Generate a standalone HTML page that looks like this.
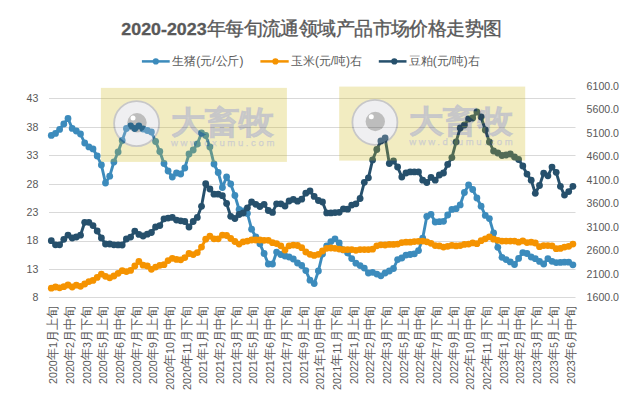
<!DOCTYPE html>
<html><head><meta charset="utf-8">
<style>
html,body{margin:0;padding:0;background:#fff;}
body{width:632px;height:401px;overflow:hidden;position:relative;}
svg{position:absolute;left:0;top:0;display:block;}
text{font-family:"Liberation Sans",sans-serif;fill:#595959;}
.ax{font-size:10.6px;}
.xl{font-size:11.5px;}
.cj{font-size:12.8px;}
.lg{font-size:12px;}
.title{font-weight:bold;}
</style></head><body>
<svg width="632" height="401" viewBox="0 0 632 401">
<line x1="49" x2="575.5" y1="98.50" y2="98.50" stroke="#d9d9d9" stroke-width="1"/>
<line x1="49" x2="575.5" y1="127.50" y2="127.50" stroke="#d9d9d9" stroke-width="1"/>
<line x1="49" x2="575.5" y1="155.50" y2="155.50" stroke="#d9d9d9" stroke-width="1"/>
<line x1="49" x2="575.5" y1="184.50" y2="184.50" stroke="#d9d9d9" stroke-width="1"/>
<line x1="49" x2="575.5" y1="212.50" y2="212.50" stroke="#d9d9d9" stroke-width="1"/>
<line x1="49" x2="575.5" y1="241.50" y2="241.50" stroke="#d9d9d9" stroke-width="1"/>
<line x1="49" x2="575.5" y1="269.50" y2="269.50" stroke="#d9d9d9" stroke-width="1"/>
<line x1="49" x2="575.5" y1="297.50" y2="297.50" stroke="#d9d9d9" stroke-width="1"/>
<polyline points="51.3,135.4 55.5,133.4 59.6,129.4 63.8,124.0 68.0,118.5 72.2,128.4 76.3,131.0 80.5,134.0 84.7,143.0 88.9,146.9 93.0,148.9 97.2,156.0 101.4,165.0 105.5,183.0 109.7,176.2 113.9,162.0 118.1,152.0 122.2,140.5 126.4,128.5 130.6,126.0 134.8,128.5 138.9,126.0 143.1,129.0 147.3,130.5 151.4,132.0 155.6,141.5 159.8,151.5 164.0,163.5 168.1,171.0 172.3,177.0 176.5,173.0 180.7,174.0 184.8,168.0 189.0,154.0 193.2,150.0 197.3,144.0 201.5,133.0 205.7,135.5 209.9,147.0 214.0,164.0 218.2,172.5 222.4,187.5 226.6,177.0 230.7,184.0 234.9,195.5 239.1,209.5 243.2,211.0 247.4,213.5 251.6,229.2 255.8,237.0 259.9,243.8 264.1,253.5 268.3,264.0 272.5,264.0 276.6,252.1 280.8,254.5 285.0,256.0 289.1,257.0 293.3,259.0 297.5,263.0 301.7,265.5 305.8,270.6 310.0,280.2 314.2,283.6 318.4,271.0 322.5,254.0 326.7,245.8 330.9,241.6 335.0,238.9 339.2,243.0 343.4,249.9 347.6,253.0 351.7,258.6 355.9,263.2 360.1,265.6 364.3,268.1 368.4,273.0 372.6,272.3 376.8,274.1 380.9,275.8 385.1,273.0 389.3,271.0 393.5,268.5 397.6,259.6 401.8,258.0 406.0,255.1 410.2,254.5 414.3,253.9 418.5,250.6 422.7,238.2 426.8,216.5 431.0,214.3 435.2,222.0 439.4,221.7 443.5,221.3 447.7,215.0 451.9,209.4 456.1,208.7 460.2,204.9 464.4,192.5 468.6,185.0 472.7,189.5 476.9,198.0 481.1,206.2 485.3,215.4 489.4,218.6 493.6,232.9 497.8,247.3 502.0,257.3 506.1,259.6 510.3,261.9 514.5,264.5 518.6,258.4 522.8,252.6 527.0,253.5 531.2,257.0 535.3,258.7 539.5,261.4 543.7,264.0 547.9,258.7 552.0,261.3 556.2,262.6 560.4,262.4 564.5,262.2 568.7,262.2 572.9,264.8" fill="none" stroke="#3c8bbc" stroke-width="2.9" stroke-linejoin="round" stroke-linecap="round"/>
<g fill="#3c8bbc">
<circle cx="51.3" cy="135.4" r="3.4"/>
<circle cx="55.5" cy="133.4" r="3.4"/>
<circle cx="59.6" cy="129.4" r="3.4"/>
<circle cx="63.8" cy="124.0" r="3.4"/>
<circle cx="68.0" cy="118.5" r="3.4"/>
<circle cx="72.2" cy="128.4" r="3.4"/>
<circle cx="76.3" cy="131.0" r="3.4"/>
<circle cx="80.5" cy="134.0" r="3.4"/>
<circle cx="84.7" cy="143.0" r="3.4"/>
<circle cx="88.9" cy="146.9" r="3.4"/>
<circle cx="93.0" cy="148.9" r="3.4"/>
<circle cx="97.2" cy="156.0" r="3.4"/>
<circle cx="101.4" cy="165.0" r="3.4"/>
<circle cx="105.5" cy="183.0" r="3.4"/>
<circle cx="109.7" cy="176.2" r="3.4"/>
<circle cx="113.9" cy="162.0" r="3.4"/>
<circle cx="118.1" cy="152.0" r="3.4"/>
<circle cx="122.2" cy="140.5" r="3.4"/>
<circle cx="126.4" cy="128.5" r="3.4"/>
<circle cx="130.6" cy="126.0" r="3.4"/>
<circle cx="134.8" cy="128.5" r="3.4"/>
<circle cx="138.9" cy="126.0" r="3.4"/>
<circle cx="143.1" cy="129.0" r="3.4"/>
<circle cx="147.3" cy="130.5" r="3.4"/>
<circle cx="151.4" cy="132.0" r="3.4"/>
<circle cx="155.6" cy="141.5" r="3.4"/>
<circle cx="159.8" cy="151.5" r="3.4"/>
<circle cx="164.0" cy="163.5" r="3.4"/>
<circle cx="168.1" cy="171.0" r="3.4"/>
<circle cx="172.3" cy="177.0" r="3.4"/>
<circle cx="176.5" cy="173.0" r="3.4"/>
<circle cx="180.7" cy="174.0" r="3.4"/>
<circle cx="184.8" cy="168.0" r="3.4"/>
<circle cx="189.0" cy="154.0" r="3.4"/>
<circle cx="193.2" cy="150.0" r="3.4"/>
<circle cx="197.3" cy="144.0" r="3.4"/>
<circle cx="201.5" cy="133.0" r="3.4"/>
<circle cx="205.7" cy="135.5" r="3.4"/>
<circle cx="209.9" cy="147.0" r="3.4"/>
<circle cx="214.0" cy="164.0" r="3.4"/>
<circle cx="218.2" cy="172.5" r="3.4"/>
<circle cx="222.4" cy="187.5" r="3.4"/>
<circle cx="226.6" cy="177.0" r="3.4"/>
<circle cx="230.7" cy="184.0" r="3.4"/>
<circle cx="234.9" cy="195.5" r="3.4"/>
<circle cx="239.1" cy="209.5" r="3.4"/>
<circle cx="243.2" cy="211.0" r="3.4"/>
<circle cx="247.4" cy="213.5" r="3.4"/>
<circle cx="251.6" cy="229.2" r="3.4"/>
<circle cx="255.8" cy="237.0" r="3.4"/>
<circle cx="259.9" cy="243.8" r="3.4"/>
<circle cx="264.1" cy="253.5" r="3.4"/>
<circle cx="268.3" cy="264.0" r="3.4"/>
<circle cx="272.5" cy="264.0" r="3.4"/>
<circle cx="276.6" cy="252.1" r="3.4"/>
<circle cx="280.8" cy="254.5" r="3.4"/>
<circle cx="285.0" cy="256.0" r="3.4"/>
<circle cx="289.1" cy="257.0" r="3.4"/>
<circle cx="293.3" cy="259.0" r="3.4"/>
<circle cx="297.5" cy="263.0" r="3.4"/>
<circle cx="301.7" cy="265.5" r="3.4"/>
<circle cx="305.8" cy="270.6" r="3.4"/>
<circle cx="310.0" cy="280.2" r="3.4"/>
<circle cx="314.2" cy="283.6" r="3.4"/>
<circle cx="318.4" cy="271.0" r="3.4"/>
<circle cx="322.5" cy="254.0" r="3.4"/>
<circle cx="326.7" cy="245.8" r="3.4"/>
<circle cx="330.9" cy="241.6" r="3.4"/>
<circle cx="335.0" cy="238.9" r="3.4"/>
<circle cx="339.2" cy="243.0" r="3.4"/>
<circle cx="343.4" cy="249.9" r="3.4"/>
<circle cx="347.6" cy="253.0" r="3.4"/>
<circle cx="351.7" cy="258.6" r="3.4"/>
<circle cx="355.9" cy="263.2" r="3.4"/>
<circle cx="360.1" cy="265.6" r="3.4"/>
<circle cx="364.3" cy="268.1" r="3.4"/>
<circle cx="368.4" cy="273.0" r="3.4"/>
<circle cx="372.6" cy="272.3" r="3.4"/>
<circle cx="376.8" cy="274.1" r="3.4"/>
<circle cx="380.9" cy="275.8" r="3.4"/>
<circle cx="385.1" cy="273.0" r="3.4"/>
<circle cx="389.3" cy="271.0" r="3.4"/>
<circle cx="393.5" cy="268.5" r="3.4"/>
<circle cx="397.6" cy="259.6" r="3.4"/>
<circle cx="401.8" cy="258.0" r="3.4"/>
<circle cx="406.0" cy="255.1" r="3.4"/>
<circle cx="410.2" cy="254.5" r="3.4"/>
<circle cx="414.3" cy="253.9" r="3.4"/>
<circle cx="418.5" cy="250.6" r="3.4"/>
<circle cx="422.7" cy="238.2" r="3.4"/>
<circle cx="426.8" cy="216.5" r="3.4"/>
<circle cx="431.0" cy="214.3" r="3.4"/>
<circle cx="435.2" cy="222.0" r="3.4"/>
<circle cx="439.4" cy="221.7" r="3.4"/>
<circle cx="443.5" cy="221.3" r="3.4"/>
<circle cx="447.7" cy="215.0" r="3.4"/>
<circle cx="451.9" cy="209.4" r="3.4"/>
<circle cx="456.1" cy="208.7" r="3.4"/>
<circle cx="460.2" cy="204.9" r="3.4"/>
<circle cx="464.4" cy="192.5" r="3.4"/>
<circle cx="468.6" cy="185.0" r="3.4"/>
<circle cx="472.7" cy="189.5" r="3.4"/>
<circle cx="476.9" cy="198.0" r="3.4"/>
<circle cx="481.1" cy="206.2" r="3.4"/>
<circle cx="485.3" cy="215.4" r="3.4"/>
<circle cx="489.4" cy="218.6" r="3.4"/>
<circle cx="493.6" cy="232.9" r="3.4"/>
<circle cx="497.8" cy="247.3" r="3.4"/>
<circle cx="502.0" cy="257.3" r="3.4"/>
<circle cx="506.1" cy="259.6" r="3.4"/>
<circle cx="510.3" cy="261.9" r="3.4"/>
<circle cx="514.5" cy="264.5" r="3.4"/>
<circle cx="518.6" cy="258.4" r="3.4"/>
<circle cx="522.8" cy="252.6" r="3.4"/>
<circle cx="527.0" cy="253.5" r="3.4"/>
<circle cx="531.2" cy="257.0" r="3.4"/>
<circle cx="535.3" cy="258.7" r="3.4"/>
<circle cx="539.5" cy="261.4" r="3.4"/>
<circle cx="543.7" cy="264.0" r="3.4"/>
<circle cx="547.9" cy="258.7" r="3.4"/>
<circle cx="552.0" cy="261.3" r="3.4"/>
<circle cx="556.2" cy="262.6" r="3.4"/>
<circle cx="560.4" cy="262.4" r="3.4"/>
<circle cx="564.5" cy="262.2" r="3.4"/>
<circle cx="568.7" cy="262.2" r="3.4"/>
<circle cx="572.9" cy="264.8" r="3.4"/>
</g>
<polyline points="51.3,288.2 55.5,287.0 59.6,287.8 63.8,286.7 68.0,285.0 72.2,287.0 76.3,285.2 80.5,286.3 84.7,284.0 88.9,281.6 93.0,280.4 97.2,277.4 101.4,274.1 105.5,276.3 109.7,277.8 113.9,276.0 118.1,273.3 122.2,270.7 126.4,271.6 130.6,270.4 134.8,266.0 138.9,261.5 143.1,265.2 147.3,266.0 151.4,269.3 155.6,267.1 159.8,265.3 164.0,264.7 168.1,260.6 172.3,258.3 176.5,259.4 180.7,259.8 184.8,257.6 189.0,253.5 193.2,254.6 197.3,252.7 201.5,247.1 205.7,239.2 209.9,236.2 214.0,238.8 218.2,238.8 222.4,235.1 226.6,235.5 230.7,238.5 234.9,241.5 239.1,244.1 243.2,241.8 247.4,241.1 251.6,240.0 255.8,240.0 259.9,240.0 264.1,240.3 268.3,240.3 272.5,242.7 276.6,243.6 280.8,245.8 285.0,250.0 289.1,245.8 293.3,245.1 297.5,245.5 301.7,247.7 305.8,252.0 310.0,254.3 314.2,255.4 318.4,254.3 322.5,251.0 326.7,248.3 330.9,248.0 335.0,248.3 339.2,249.1 343.4,249.7 347.6,249.6 351.7,249.6 355.9,250.3 360.1,249.6 364.3,249.6 368.4,249.6 372.6,249.2 376.8,245.8 380.9,244.8 385.1,245.0 389.3,244.4 393.5,244.4 397.6,244.1 401.8,242.6 406.0,242.2 410.2,242.2 414.3,241.6 418.5,241.3 422.7,241.1 426.8,241.8 431.0,243.3 435.2,245.6 439.4,245.9 443.5,247.1 447.7,246.3 451.9,245.4 456.1,245.9 460.2,245.6 464.4,244.4 468.6,244.1 472.7,242.9 476.9,243.7 481.1,240.7 485.3,238.8 489.4,236.8 493.6,239.2 497.8,240.3 502.0,241.1 506.1,241.1 510.3,241.1 514.5,241.1 518.6,242.2 522.8,240.9 527.0,242.6 531.2,242.2 535.3,243.0 539.5,246.7 543.7,245.6 547.9,245.6 552.0,245.8 556.2,248.7 560.4,248.4 564.5,247.1 568.7,246.3 572.9,244.1" fill="none" stroke="#f59300" stroke-width="2.9" stroke-linejoin="round" stroke-linecap="round"/>
<g fill="#f59300">
<circle cx="51.3" cy="288.2" r="3.4"/>
<circle cx="55.5" cy="287.0" r="3.4"/>
<circle cx="59.6" cy="287.8" r="3.4"/>
<circle cx="63.8" cy="286.7" r="3.4"/>
<circle cx="68.0" cy="285.0" r="3.4"/>
<circle cx="72.2" cy="287.0" r="3.4"/>
<circle cx="76.3" cy="285.2" r="3.4"/>
<circle cx="80.5" cy="286.3" r="3.4"/>
<circle cx="84.7" cy="284.0" r="3.4"/>
<circle cx="88.9" cy="281.6" r="3.4"/>
<circle cx="93.0" cy="280.4" r="3.4"/>
<circle cx="97.2" cy="277.4" r="3.4"/>
<circle cx="101.4" cy="274.1" r="3.4"/>
<circle cx="105.5" cy="276.3" r="3.4"/>
<circle cx="109.7" cy="277.8" r="3.4"/>
<circle cx="113.9" cy="276.0" r="3.4"/>
<circle cx="118.1" cy="273.3" r="3.4"/>
<circle cx="122.2" cy="270.7" r="3.4"/>
<circle cx="126.4" cy="271.6" r="3.4"/>
<circle cx="130.6" cy="270.4" r="3.4"/>
<circle cx="134.8" cy="266.0" r="3.4"/>
<circle cx="138.9" cy="261.5" r="3.4"/>
<circle cx="143.1" cy="265.2" r="3.4"/>
<circle cx="147.3" cy="266.0" r="3.4"/>
<circle cx="151.4" cy="269.3" r="3.4"/>
<circle cx="155.6" cy="267.1" r="3.4"/>
<circle cx="159.8" cy="265.3" r="3.4"/>
<circle cx="164.0" cy="264.7" r="3.4"/>
<circle cx="168.1" cy="260.6" r="3.4"/>
<circle cx="172.3" cy="258.3" r="3.4"/>
<circle cx="176.5" cy="259.4" r="3.4"/>
<circle cx="180.7" cy="259.8" r="3.4"/>
<circle cx="184.8" cy="257.6" r="3.4"/>
<circle cx="189.0" cy="253.5" r="3.4"/>
<circle cx="193.2" cy="254.6" r="3.4"/>
<circle cx="197.3" cy="252.7" r="3.4"/>
<circle cx="201.5" cy="247.1" r="3.4"/>
<circle cx="205.7" cy="239.2" r="3.4"/>
<circle cx="209.9" cy="236.2" r="3.4"/>
<circle cx="214.0" cy="238.8" r="3.4"/>
<circle cx="218.2" cy="238.8" r="3.4"/>
<circle cx="222.4" cy="235.1" r="3.4"/>
<circle cx="226.6" cy="235.5" r="3.4"/>
<circle cx="230.7" cy="238.5" r="3.4"/>
<circle cx="234.9" cy="241.5" r="3.4"/>
<circle cx="239.1" cy="244.1" r="3.4"/>
<circle cx="243.2" cy="241.8" r="3.4"/>
<circle cx="247.4" cy="241.1" r="3.4"/>
<circle cx="251.6" cy="240.0" r="3.4"/>
<circle cx="255.8" cy="240.0" r="3.4"/>
<circle cx="259.9" cy="240.0" r="3.4"/>
<circle cx="264.1" cy="240.3" r="3.4"/>
<circle cx="268.3" cy="240.3" r="3.4"/>
<circle cx="272.5" cy="242.7" r="3.4"/>
<circle cx="276.6" cy="243.6" r="3.4"/>
<circle cx="280.8" cy="245.8" r="3.4"/>
<circle cx="285.0" cy="250.0" r="3.4"/>
<circle cx="289.1" cy="245.8" r="3.4"/>
<circle cx="293.3" cy="245.1" r="3.4"/>
<circle cx="297.5" cy="245.5" r="3.4"/>
<circle cx="301.7" cy="247.7" r="3.4"/>
<circle cx="305.8" cy="252.0" r="3.4"/>
<circle cx="310.0" cy="254.3" r="3.4"/>
<circle cx="314.2" cy="255.4" r="3.4"/>
<circle cx="318.4" cy="254.3" r="3.4"/>
<circle cx="322.5" cy="251.0" r="3.4"/>
<circle cx="326.7" cy="248.3" r="3.4"/>
<circle cx="330.9" cy="248.0" r="3.4"/>
<circle cx="335.0" cy="248.3" r="3.4"/>
<circle cx="339.2" cy="249.1" r="3.4"/>
<circle cx="343.4" cy="249.7" r="3.4"/>
<circle cx="347.6" cy="249.6" r="3.4"/>
<circle cx="351.7" cy="249.6" r="3.4"/>
<circle cx="355.9" cy="250.3" r="3.4"/>
<circle cx="360.1" cy="249.6" r="3.4"/>
<circle cx="364.3" cy="249.6" r="3.4"/>
<circle cx="368.4" cy="249.6" r="3.4"/>
<circle cx="372.6" cy="249.2" r="3.4"/>
<circle cx="376.8" cy="245.8" r="3.4"/>
<circle cx="380.9" cy="244.8" r="3.4"/>
<circle cx="385.1" cy="245.0" r="3.4"/>
<circle cx="389.3" cy="244.4" r="3.4"/>
<circle cx="393.5" cy="244.4" r="3.4"/>
<circle cx="397.6" cy="244.1" r="3.4"/>
<circle cx="401.8" cy="242.6" r="3.4"/>
<circle cx="406.0" cy="242.2" r="3.4"/>
<circle cx="410.2" cy="242.2" r="3.4"/>
<circle cx="414.3" cy="241.6" r="3.4"/>
<circle cx="418.5" cy="241.3" r="3.4"/>
<circle cx="422.7" cy="241.1" r="3.4"/>
<circle cx="426.8" cy="241.8" r="3.4"/>
<circle cx="431.0" cy="243.3" r="3.4"/>
<circle cx="435.2" cy="245.6" r="3.4"/>
<circle cx="439.4" cy="245.9" r="3.4"/>
<circle cx="443.5" cy="247.1" r="3.4"/>
<circle cx="447.7" cy="246.3" r="3.4"/>
<circle cx="451.9" cy="245.4" r="3.4"/>
<circle cx="456.1" cy="245.9" r="3.4"/>
<circle cx="460.2" cy="245.6" r="3.4"/>
<circle cx="464.4" cy="244.4" r="3.4"/>
<circle cx="468.6" cy="244.1" r="3.4"/>
<circle cx="472.7" cy="242.9" r="3.4"/>
<circle cx="476.9" cy="243.7" r="3.4"/>
<circle cx="481.1" cy="240.7" r="3.4"/>
<circle cx="485.3" cy="238.8" r="3.4"/>
<circle cx="489.4" cy="236.8" r="3.4"/>
<circle cx="493.6" cy="239.2" r="3.4"/>
<circle cx="497.8" cy="240.3" r="3.4"/>
<circle cx="502.0" cy="241.1" r="3.4"/>
<circle cx="506.1" cy="241.1" r="3.4"/>
<circle cx="510.3" cy="241.1" r="3.4"/>
<circle cx="514.5" cy="241.1" r="3.4"/>
<circle cx="518.6" cy="242.2" r="3.4"/>
<circle cx="522.8" cy="240.9" r="3.4"/>
<circle cx="527.0" cy="242.6" r="3.4"/>
<circle cx="531.2" cy="242.2" r="3.4"/>
<circle cx="535.3" cy="243.0" r="3.4"/>
<circle cx="539.5" cy="246.7" r="3.4"/>
<circle cx="543.7" cy="245.6" r="3.4"/>
<circle cx="547.9" cy="245.6" r="3.4"/>
<circle cx="552.0" cy="245.8" r="3.4"/>
<circle cx="556.2" cy="248.7" r="3.4"/>
<circle cx="560.4" cy="248.4" r="3.4"/>
<circle cx="564.5" cy="247.1" r="3.4"/>
<circle cx="568.7" cy="246.3" r="3.4"/>
<circle cx="572.9" cy="244.1" r="3.4"/>
</g>
<polyline points="51.3,240.7 55.5,244.8 59.6,244.8 63.8,239.3 68.0,235.2 72.2,238.0 76.3,237.0 80.5,235.2 84.7,222.3 88.9,222.3 93.0,225.6 97.2,231.0 101.4,238.0 105.5,244.0 109.7,244.0 113.9,244.8 118.1,244.9 122.2,245.0 126.4,239.0 130.6,237.1 134.8,231.1 138.9,234.4 143.1,236.0 147.3,234.2 151.4,232.5 155.6,227.0 159.8,225.6 164.0,218.8 168.1,218.1 172.3,217.4 176.5,220.1 180.7,220.8 184.8,221.5 189.0,227.0 193.2,221.5 197.3,217.4 201.5,206.3 205.7,183.7 209.9,189.0 214.0,194.2 218.2,194.2 222.4,195.7 226.6,203.5 230.7,216.3 234.9,218.5 239.1,214.5 243.2,213.0 247.4,207.8 251.6,202.0 255.8,204.3 259.9,206.5 264.1,204.3 268.3,210.5 272.5,212.4 276.6,203.8 280.8,203.8 285.0,206.0 289.1,201.0 293.3,199.4 297.5,201.2 301.7,199.2 305.8,193.2 310.0,191.0 314.2,196.4 318.4,200.5 322.5,202.0 326.7,212.9 330.9,212.9 335.0,212.6 339.2,212.3 343.4,208.8 347.6,209.2 351.7,205.1 355.9,203.8 360.1,198.5 364.3,182.3 368.4,177.8 372.6,159.9 376.8,149.5 380.9,141.0 385.1,138.0 389.3,163.5 393.5,161.0 397.6,167.0 401.8,177.0 406.0,173.0 410.2,171.9 414.3,171.9 418.5,171.9 422.7,180.2 426.8,182.5 431.0,177.4 435.2,180.2 439.4,175.0 443.5,173.0 447.7,164.4 451.9,157.6 456.1,141.9 460.2,128.0 464.4,125.0 468.6,119.0 472.7,118.0 476.9,112.0 481.1,117.0 485.3,130.0 489.4,142.0 493.6,151.0 497.8,153.0 502.0,155.5 506.1,155.0 510.3,154.0 514.5,157.0 518.6,159.5 522.8,166.0 527.0,174.1 531.2,180.2 535.3,193.3 539.5,185.5 543.7,173.2 547.9,175.8 552.0,167.1 556.2,172.3 560.4,186.3 564.5,195.1 568.7,191.6 572.9,186.3" fill="none" stroke="#26506c" stroke-width="2.9" stroke-linejoin="round" stroke-linecap="round"/>
<g fill="#26506c">
<circle cx="51.3" cy="240.7" r="3.4"/>
<circle cx="55.5" cy="244.8" r="3.4"/>
<circle cx="59.6" cy="244.8" r="3.4"/>
<circle cx="63.8" cy="239.3" r="3.4"/>
<circle cx="68.0" cy="235.2" r="3.4"/>
<circle cx="72.2" cy="238.0" r="3.4"/>
<circle cx="76.3" cy="237.0" r="3.4"/>
<circle cx="80.5" cy="235.2" r="3.4"/>
<circle cx="84.7" cy="222.3" r="3.4"/>
<circle cx="88.9" cy="222.3" r="3.4"/>
<circle cx="93.0" cy="225.6" r="3.4"/>
<circle cx="97.2" cy="231.0" r="3.4"/>
<circle cx="101.4" cy="238.0" r="3.4"/>
<circle cx="105.5" cy="244.0" r="3.4"/>
<circle cx="109.7" cy="244.0" r="3.4"/>
<circle cx="113.9" cy="244.8" r="3.4"/>
<circle cx="118.1" cy="244.9" r="3.4"/>
<circle cx="122.2" cy="245.0" r="3.4"/>
<circle cx="126.4" cy="239.0" r="3.4"/>
<circle cx="130.6" cy="237.1" r="3.4"/>
<circle cx="134.8" cy="231.1" r="3.4"/>
<circle cx="138.9" cy="234.4" r="3.4"/>
<circle cx="143.1" cy="236.0" r="3.4"/>
<circle cx="147.3" cy="234.2" r="3.4"/>
<circle cx="151.4" cy="232.5" r="3.4"/>
<circle cx="155.6" cy="227.0" r="3.4"/>
<circle cx="159.8" cy="225.6" r="3.4"/>
<circle cx="164.0" cy="218.8" r="3.4"/>
<circle cx="168.1" cy="218.1" r="3.4"/>
<circle cx="172.3" cy="217.4" r="3.4"/>
<circle cx="176.5" cy="220.1" r="3.4"/>
<circle cx="180.7" cy="220.8" r="3.4"/>
<circle cx="184.8" cy="221.5" r="3.4"/>
<circle cx="189.0" cy="227.0" r="3.4"/>
<circle cx="193.2" cy="221.5" r="3.4"/>
<circle cx="197.3" cy="217.4" r="3.4"/>
<circle cx="201.5" cy="206.3" r="3.4"/>
<circle cx="205.7" cy="183.7" r="3.4"/>
<circle cx="209.9" cy="189.0" r="3.4"/>
<circle cx="214.0" cy="194.2" r="3.4"/>
<circle cx="218.2" cy="194.2" r="3.4"/>
<circle cx="222.4" cy="195.7" r="3.4"/>
<circle cx="226.6" cy="203.5" r="3.4"/>
<circle cx="230.7" cy="216.3" r="3.4"/>
<circle cx="234.9" cy="218.5" r="3.4"/>
<circle cx="239.1" cy="214.5" r="3.4"/>
<circle cx="243.2" cy="213.0" r="3.4"/>
<circle cx="247.4" cy="207.8" r="3.4"/>
<circle cx="251.6" cy="202.0" r="3.4"/>
<circle cx="255.8" cy="204.3" r="3.4"/>
<circle cx="259.9" cy="206.5" r="3.4"/>
<circle cx="264.1" cy="204.3" r="3.4"/>
<circle cx="268.3" cy="210.5" r="3.4"/>
<circle cx="272.5" cy="212.4" r="3.4"/>
<circle cx="276.6" cy="203.8" r="3.4"/>
<circle cx="280.8" cy="203.8" r="3.4"/>
<circle cx="285.0" cy="206.0" r="3.4"/>
<circle cx="289.1" cy="201.0" r="3.4"/>
<circle cx="293.3" cy="199.4" r="3.4"/>
<circle cx="297.5" cy="201.2" r="3.4"/>
<circle cx="301.7" cy="199.2" r="3.4"/>
<circle cx="305.8" cy="193.2" r="3.4"/>
<circle cx="310.0" cy="191.0" r="3.4"/>
<circle cx="314.2" cy="196.4" r="3.4"/>
<circle cx="318.4" cy="200.5" r="3.4"/>
<circle cx="322.5" cy="202.0" r="3.4"/>
<circle cx="326.7" cy="212.9" r="3.4"/>
<circle cx="330.9" cy="212.9" r="3.4"/>
<circle cx="335.0" cy="212.6" r="3.4"/>
<circle cx="339.2" cy="212.3" r="3.4"/>
<circle cx="343.4" cy="208.8" r="3.4"/>
<circle cx="347.6" cy="209.2" r="3.4"/>
<circle cx="351.7" cy="205.1" r="3.4"/>
<circle cx="355.9" cy="203.8" r="3.4"/>
<circle cx="360.1" cy="198.5" r="3.4"/>
<circle cx="364.3" cy="182.3" r="3.4"/>
<circle cx="368.4" cy="177.8" r="3.4"/>
<circle cx="372.6" cy="159.9" r="3.4"/>
<circle cx="376.8" cy="149.5" r="3.4"/>
<circle cx="380.9" cy="141.0" r="3.4"/>
<circle cx="385.1" cy="138.0" r="3.4"/>
<circle cx="389.3" cy="163.5" r="3.4"/>
<circle cx="393.5" cy="161.0" r="3.4"/>
<circle cx="397.6" cy="167.0" r="3.4"/>
<circle cx="401.8" cy="177.0" r="3.4"/>
<circle cx="406.0" cy="173.0" r="3.4"/>
<circle cx="410.2" cy="171.9" r="3.4"/>
<circle cx="414.3" cy="171.9" r="3.4"/>
<circle cx="418.5" cy="171.9" r="3.4"/>
<circle cx="422.7" cy="180.2" r="3.4"/>
<circle cx="426.8" cy="182.5" r="3.4"/>
<circle cx="431.0" cy="177.4" r="3.4"/>
<circle cx="435.2" cy="180.2" r="3.4"/>
<circle cx="439.4" cy="175.0" r="3.4"/>
<circle cx="443.5" cy="173.0" r="3.4"/>
<circle cx="447.7" cy="164.4" r="3.4"/>
<circle cx="451.9" cy="157.6" r="3.4"/>
<circle cx="456.1" cy="141.9" r="3.4"/>
<circle cx="460.2" cy="128.0" r="3.4"/>
<circle cx="464.4" cy="125.0" r="3.4"/>
<circle cx="468.6" cy="119.0" r="3.4"/>
<circle cx="472.7" cy="118.0" r="3.4"/>
<circle cx="476.9" cy="112.0" r="3.4"/>
<circle cx="481.1" cy="117.0" r="3.4"/>
<circle cx="485.3" cy="130.0" r="3.4"/>
<circle cx="489.4" cy="142.0" r="3.4"/>
<circle cx="493.6" cy="151.0" r="3.4"/>
<circle cx="497.8" cy="153.0" r="3.4"/>
<circle cx="502.0" cy="155.5" r="3.4"/>
<circle cx="506.1" cy="155.0" r="3.4"/>
<circle cx="510.3" cy="154.0" r="3.4"/>
<circle cx="514.5" cy="157.0" r="3.4"/>
<circle cx="518.6" cy="159.5" r="3.4"/>
<circle cx="522.8" cy="166.0" r="3.4"/>
<circle cx="527.0" cy="174.1" r="3.4"/>
<circle cx="531.2" cy="180.2" r="3.4"/>
<circle cx="535.3" cy="193.3" r="3.4"/>
<circle cx="539.5" cy="185.5" r="3.4"/>
<circle cx="543.7" cy="173.2" r="3.4"/>
<circle cx="547.9" cy="175.8" r="3.4"/>
<circle cx="552.0" cy="167.1" r="3.4"/>
<circle cx="556.2" cy="172.3" r="3.4"/>
<circle cx="560.4" cy="186.3" r="3.4"/>
<circle cx="564.5" cy="195.1" r="3.4"/>
<circle cx="568.7" cy="191.6" r="3.4"/>
<circle cx="572.9" cy="186.3" r="3.4"/>
</g>
<g opacity="0.263">
<rect x="100.9" y="87.9" width="186" height="74" fill="#cfb916"/>
<circle cx="136.6" cy="123.6" r="22.5" fill="#c6c6cd" stroke="#2e2e32" stroke-width="1.8"/>
<circle cx="137.0" cy="122.8" r="9.7" fill="#0a0a0a"/>
<circle cx="133.0" cy="118.0" r="2.5" fill="#ffffff"/>
<text x="170.7" y="132.9" font-family="Liberation Sans, sans-serif" font-weight="bold" font-size="31" fill="#2e2e32" stroke="#2e2e32" stroke-width="0.8" textLength="103" lengthAdjust="spacingAndGlyphs">大畜牧</text>
<text x="170.9" y="146.3" font-family="Liberation Sans, sans-serif" font-size="9.6" fill="#2e2e32" stroke="#2e2e32" stroke-width="0.25" textLength="103.5" lengthAdjust="spacing">www.dxumu.com</text>
</g>
<g opacity="0.263">
<rect x="339.2" y="86.6" width="186" height="74" fill="#cfb916"/>
<circle cx="374.9" cy="122.3" r="22.5" fill="#c6c6cd" stroke="#2e2e32" stroke-width="1.8"/>
<circle cx="375.3" cy="121.5" r="9.7" fill="#0a0a0a"/>
<circle cx="371.3" cy="116.7" r="2.5" fill="#ffffff"/>
<text x="409.0" y="131.6" font-family="Liberation Sans, sans-serif" font-weight="bold" font-size="31" fill="#2e2e32" stroke="#2e2e32" stroke-width="0.8" textLength="103" lengthAdjust="spacingAndGlyphs">大畜牧</text>
<text x="409.2" y="145.0" font-family="Liberation Sans, sans-serif" font-size="9.6" fill="#2e2e32" stroke="#2e2e32" stroke-width="0.25" textLength="103.5" lengthAdjust="spacing">www.dxumu.com</text>
</g>
<text x="38.3" y="102.2" text-anchor="end" class="ax">43</text>
<text x="38.3" y="130.6" text-anchor="end" class="ax">38</text>
<text x="38.3" y="159.1" text-anchor="end" class="ax">33</text>
<text x="38.3" y="187.5" text-anchor="end" class="ax">28</text>
<text x="38.3" y="216.0" text-anchor="end" class="ax">23</text>
<text x="38.3" y="244.4" text-anchor="end" class="ax">18</text>
<text x="38.3" y="272.9" text-anchor="end" class="ax">13</text>
<text x="38.3" y="301.3" text-anchor="end" class="ax">8</text>
<text x="586.6" y="89.8" class="ax">6100.0</text>
<text x="586.6" y="113.3" class="ax">5600.0</text>
<text x="586.6" y="136.8" class="ax">5100.0</text>
<text x="586.6" y="160.3" class="ax">4600.0</text>
<text x="586.6" y="183.8" class="ax">4100.0</text>
<text x="586.6" y="207.3" class="ax">3600.0</text>
<text x="586.6" y="230.8" class="ax">3100.0</text>
<text x="586.6" y="254.3" class="ax">2600.0</text>
<text x="586.6" y="277.8" class="ax">2100.0</text>
<text x="586.6" y="301.3" class="ax">1600.0</text>
<text transform="translate(57.1,305.8) rotate(-90)" x="0" y="0" text-anchor="end" class="xl" textLength="78.2" lengthAdjust="spacingAndGlyphs"><tspan>2020</tspan><tspan class="cj">年</tspan><tspan>1</tspan><tspan class="cj">月上旬</tspan></text>
<text transform="translate(73.8,305.8) rotate(-90)" x="0" y="0" text-anchor="end" class="xl" textLength="78.2" lengthAdjust="spacingAndGlyphs"><tspan>2020</tspan><tspan class="cj">年</tspan><tspan>2</tspan><tspan class="cj">月中旬</tspan></text>
<text transform="translate(90.5,305.8) rotate(-90)" x="0" y="0" text-anchor="end" class="xl" textLength="78.2" lengthAdjust="spacingAndGlyphs"><tspan>2020</tspan><tspan class="cj">年</tspan><tspan>3</tspan><tspan class="cj">月下旬</tspan></text>
<text transform="translate(107.2,305.8) rotate(-90)" x="0" y="0" text-anchor="end" class="xl" textLength="78.2" lengthAdjust="spacingAndGlyphs"><tspan>2020</tspan><tspan class="cj">年</tspan><tspan>5</tspan><tspan class="cj">月上旬</tspan></text>
<text transform="translate(123.9,305.8) rotate(-90)" x="0" y="0" text-anchor="end" class="xl" textLength="78.2" lengthAdjust="spacingAndGlyphs"><tspan>2020</tspan><tspan class="cj">年</tspan><tspan>6</tspan><tspan class="cj">月中旬</tspan></text>
<text transform="translate(140.6,305.8) rotate(-90)" x="0" y="0" text-anchor="end" class="xl" textLength="78.2" lengthAdjust="spacingAndGlyphs"><tspan>2020</tspan><tspan class="cj">年</tspan><tspan>7</tspan><tspan class="cj">月下旬</tspan></text>
<text transform="translate(157.2,305.8) rotate(-90)" x="0" y="0" text-anchor="end" class="xl" textLength="78.2" lengthAdjust="spacingAndGlyphs"><tspan>2020</tspan><tspan class="cj">年</tspan><tspan>9</tspan><tspan class="cj">月上旬</tspan></text>
<text transform="translate(173.9,305.8) rotate(-90)" x="0" y="0" text-anchor="end" class="xl" textLength="84.1" lengthAdjust="spacingAndGlyphs"><tspan>2020</tspan><tspan class="cj">年</tspan><tspan>10</tspan><tspan class="cj">月中旬</tspan></text>
<text transform="translate(190.6,305.8) rotate(-90)" x="0" y="0" text-anchor="end" class="xl" textLength="84.1" lengthAdjust="spacingAndGlyphs"><tspan>2020</tspan><tspan class="cj">年</tspan><tspan>11</tspan><tspan class="cj">月下旬</tspan></text>
<text transform="translate(207.3,305.8) rotate(-90)" x="0" y="0" text-anchor="end" class="xl" textLength="78.2" lengthAdjust="spacingAndGlyphs"><tspan>2021</tspan><tspan class="cj">年</tspan><tspan>1</tspan><tspan class="cj">月上旬</tspan></text>
<text transform="translate(224.0,305.8) rotate(-90)" x="0" y="0" text-anchor="end" class="xl" textLength="78.2" lengthAdjust="spacingAndGlyphs"><tspan>2021</tspan><tspan class="cj">年</tspan><tspan>2</tspan><tspan class="cj">月中旬</tspan></text>
<text transform="translate(240.7,305.8) rotate(-90)" x="0" y="0" text-anchor="end" class="xl" textLength="78.2" lengthAdjust="spacingAndGlyphs"><tspan>2021</tspan><tspan class="cj">年</tspan><tspan>3</tspan><tspan class="cj">月下旬</tspan></text>
<text transform="translate(257.4,305.8) rotate(-90)" x="0" y="0" text-anchor="end" class="xl" textLength="78.2" lengthAdjust="spacingAndGlyphs"><tspan>2021</tspan><tspan class="cj">年</tspan><tspan>5</tspan><tspan class="cj">月上旬</tspan></text>
<text transform="translate(274.1,305.8) rotate(-90)" x="0" y="0" text-anchor="end" class="xl" textLength="78.2" lengthAdjust="spacingAndGlyphs"><tspan>2021</tspan><tspan class="cj">年</tspan><tspan>6</tspan><tspan class="cj">月中旬</tspan></text>
<text transform="translate(290.8,305.8) rotate(-90)" x="0" y="0" text-anchor="end" class="xl" textLength="78.2" lengthAdjust="spacingAndGlyphs"><tspan>2021</tspan><tspan class="cj">年</tspan><tspan>7</tspan><tspan class="cj">月下旬</tspan></text>
<text transform="translate(307.5,305.8) rotate(-90)" x="0" y="0" text-anchor="end" class="xl" textLength="78.2" lengthAdjust="spacingAndGlyphs"><tspan>2021</tspan><tspan class="cj">年</tspan><tspan>9</tspan><tspan class="cj">月上旬</tspan></text>
<text transform="translate(324.2,305.8) rotate(-90)" x="0" y="0" text-anchor="end" class="xl" textLength="84.1" lengthAdjust="spacingAndGlyphs"><tspan>2021</tspan><tspan class="cj">年</tspan><tspan>10</tspan><tspan class="cj">月中旬</tspan></text>
<text transform="translate(340.8,305.8) rotate(-90)" x="0" y="0" text-anchor="end" class="xl" textLength="84.1" lengthAdjust="spacingAndGlyphs"><tspan>2021</tspan><tspan class="cj">年</tspan><tspan>11</tspan><tspan class="cj">月下旬</tspan></text>
<text transform="translate(357.5,305.8) rotate(-90)" x="0" y="0" text-anchor="end" class="xl" textLength="78.2" lengthAdjust="spacingAndGlyphs"><tspan>2022</tspan><tspan class="cj">年</tspan><tspan>1</tspan><tspan class="cj">月上旬</tspan></text>
<text transform="translate(374.2,305.8) rotate(-90)" x="0" y="0" text-anchor="end" class="xl" textLength="78.2" lengthAdjust="spacingAndGlyphs"><tspan>2022</tspan><tspan class="cj">年</tspan><tspan>2</tspan><tspan class="cj">月中旬</tspan></text>
<text transform="translate(390.9,305.8) rotate(-90)" x="0" y="0" text-anchor="end" class="xl" textLength="78.2" lengthAdjust="spacingAndGlyphs"><tspan>2022</tspan><tspan class="cj">年</tspan><tspan>3</tspan><tspan class="cj">月下旬</tspan></text>
<text transform="translate(407.6,305.8) rotate(-90)" x="0" y="0" text-anchor="end" class="xl" textLength="78.2" lengthAdjust="spacingAndGlyphs"><tspan>2022</tspan><tspan class="cj">年</tspan><tspan>5</tspan><tspan class="cj">月上旬</tspan></text>
<text transform="translate(424.3,305.8) rotate(-90)" x="0" y="0" text-anchor="end" class="xl" textLength="78.2" lengthAdjust="spacingAndGlyphs"><tspan>2022</tspan><tspan class="cj">年</tspan><tspan>6</tspan><tspan class="cj">月中旬</tspan></text>
<text transform="translate(441.0,305.8) rotate(-90)" x="0" y="0" text-anchor="end" class="xl" textLength="78.2" lengthAdjust="spacingAndGlyphs"><tspan>2022</tspan><tspan class="cj">年</tspan><tspan>7</tspan><tspan class="cj">月下旬</tspan></text>
<text transform="translate(457.7,305.8) rotate(-90)" x="0" y="0" text-anchor="end" class="xl" textLength="78.2" lengthAdjust="spacingAndGlyphs"><tspan>2022</tspan><tspan class="cj">年</tspan><tspan>9</tspan><tspan class="cj">月上旬</tspan></text>
<text transform="translate(474.4,305.8) rotate(-90)" x="0" y="0" text-anchor="end" class="xl" textLength="84.1" lengthAdjust="spacingAndGlyphs"><tspan>2022</tspan><tspan class="cj">年</tspan><tspan>10</tspan><tspan class="cj">月中旬</tspan></text>
<text transform="translate(491.1,305.8) rotate(-90)" x="0" y="0" text-anchor="end" class="xl" textLength="84.1" lengthAdjust="spacingAndGlyphs"><tspan>2022</tspan><tspan class="cj">年</tspan><tspan>11</tspan><tspan class="cj">月下旬</tspan></text>
<text transform="translate(507.8,305.8) rotate(-90)" x="0" y="0" text-anchor="end" class="xl" textLength="78.2" lengthAdjust="spacingAndGlyphs"><tspan>2023</tspan><tspan class="cj">年</tspan><tspan>1</tspan><tspan class="cj">月上旬</tspan></text>
<text transform="translate(524.4,305.8) rotate(-90)" x="0" y="0" text-anchor="end" class="xl" textLength="78.2" lengthAdjust="spacingAndGlyphs"><tspan>2023</tspan><tspan class="cj">年</tspan><tspan>2</tspan><tspan class="cj">月中旬</tspan></text>
<text transform="translate(541.1,305.8) rotate(-90)" x="0" y="0" text-anchor="end" class="xl" textLength="78.2" lengthAdjust="spacingAndGlyphs"><tspan>2023</tspan><tspan class="cj">年</tspan><tspan>3</tspan><tspan class="cj">月下旬</tspan></text>
<text transform="translate(557.8,305.8) rotate(-90)" x="0" y="0" text-anchor="end" class="xl" textLength="78.2" lengthAdjust="spacingAndGlyphs"><tspan>2023</tspan><tspan class="cj">年</tspan><tspan>5</tspan><tspan class="cj">月上旬</tspan></text>
<text transform="translate(574.5,305.8) rotate(-90)" x="0" y="0" text-anchor="end" class="xl" textLength="78.2" lengthAdjust="spacingAndGlyphs"><tspan>2023</tspan><tspan class="cj">年</tspan><tspan>6</tspan><tspan class="cj">月中旬</tspan></text>
<text x="121.3" y="34.5" class="title" font-size="17" stroke="#595959" stroke-width="0.3" textLength="85.3" lengthAdjust="spacingAndGlyphs">2020-2023</text>
<text x="206.8" y="35.4" font-size="19" textLength="295.3" lengthAdjust="spacing" fill="#595959" stroke="#595959" stroke-width="0.35">年每旬流通领域产品市场价格走势图</text>
<line x1="141.9" x2="169.7" y1="61.4" y2="61.4" stroke="#3c8bbc" stroke-width="2.5"/><circle cx="155.8" cy="61.4" r="3.1" fill="#3c8bbc"/><text x="172.4" y="65.2" class="lg" textLength="71" lengthAdjust="spacingAndGlyphs">生猪(元/公斤)</text>
<line x1="260.4" x2="288.7" y1="61.4" y2="61.4" stroke="#f59300" stroke-width="2.5"/><circle cx="275.4" cy="61.4" r="3.1" fill="#f59300"/><text x="291.0" y="65.2" class="lg" textLength="71" lengthAdjust="spacingAndGlyphs">玉米(元/吨)右</text>
<line x1="378.8" x2="406.5" y1="61.4" y2="61.4" stroke="#26506c" stroke-width="2.5"/><circle cx="394.3" cy="61.4" r="3.1" fill="#26506c"/><text x="408.8" y="65.2" class="lg" textLength="71" lengthAdjust="spacingAndGlyphs">豆粕(元/吨)右</text>
</svg>
</body></html>
